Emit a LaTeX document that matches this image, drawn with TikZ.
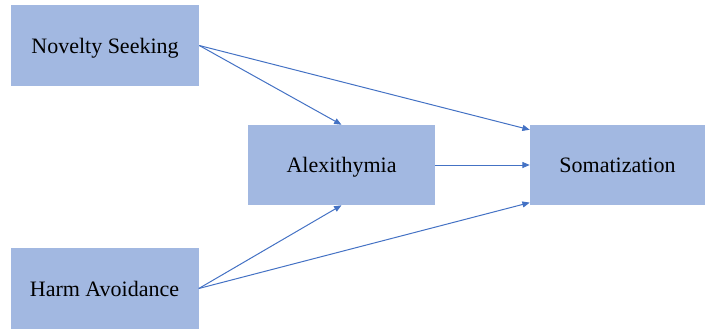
\documentclass[tikz,border=0pt]{standalone}
\usepackage{fontspec}
\setmainfont{Liberation Serif}
\usetikzlibrary{arrows.meta}
\definecolor{boxBlue}{RGB}{162,184,225}
\definecolor{lineBlue}{RGB}{68,114,196}

\begin{document}
\begin{tikzpicture}[x=0.75pt,y=-0.75pt,>={Triangle[length=5.5pt,width=4.5pt]},
  varbox/.style={fill=boxBlue,draw=none,minimum height=60.75pt,inner sep=0pt,
    text depth=0pt,font=\rmfamily\fontsize{16.5}{18}\selectfont},
  link/.style={lineBlue,line width=0.75pt,->}]
  \useasboundingbox (0,0) rectangle (705,329);
  \node[varbox,minimum width=141pt] (novelty) at (105,45.5) {Novelty Seeking};
  \node[varbox,minimum width=141pt] (harm) at (104.5,288.5) {Harm Avoidance};
  \node[varbox,minimum width=140.25pt,minimum height=60pt] (alex) at (341.5,165) {Alexithymia};
  \node[varbox,minimum width=131.25pt,minimum height=60pt] (soma) at (617.5,165) {Somatization};
  \coordinate (somaUp) at ([yshift=-3.75pt]soma.north west);
  \coordinate (somaDown) at ([yshift=2pt]soma.south west);
  \draw[link] (novelty.east) -- (alex.north);
  \draw[link] (novelty.east) -- (somaUp);
  \draw[link] (alex.east) -- (soma.west);
  \draw[link] (harm.east) -- (alex.south);
  \draw[link] (harm.east) -- (somaDown);
\end{tikzpicture}
\end{document}
